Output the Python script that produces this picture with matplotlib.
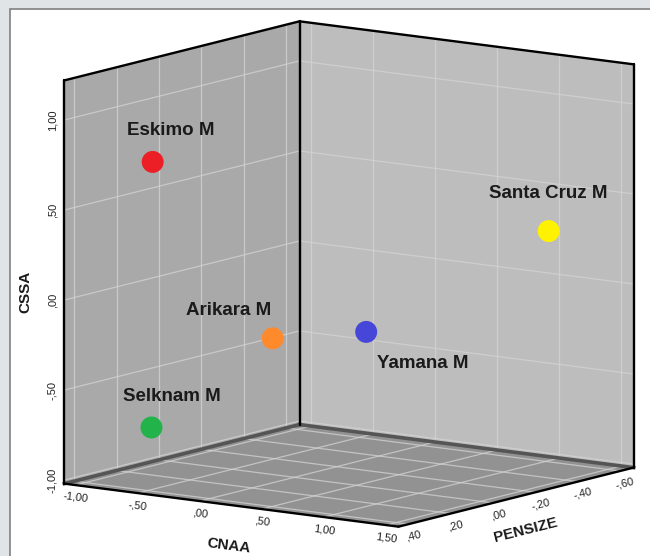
import numpy as np
import matplotlib
matplotlib.use("Agg")
import matplotlib.pyplot as plt
from matplotlib.patches import Rectangle
from mpl_toolkits.mplot3d.art3d import Poly3DCollection

# ---------------- data ----------------
groups = ["Eskimo M", "Santa Cruz M", "Arikara M", "Yamana M", "Selknam M"]
cnaa = [-0.80, 1.40, 0.03, -0.41, -0.52]
pensize = [0.20, -0.38, 0.12, -0.58, 0.37]
cssa = [0.72, 0.36, -0.21, -0.42, -0.68]
point_colors = ["#ec1f27", "#fff200", "#ff8a2b", "#4646d8", "#22b34a"]

cnaa_ticks = [-1.0, -0.5, 0.0, 0.5, 1.0, 1.5]
pensize_ticks = [0.4, 0.2, 0.0, -0.2, -0.4, -0.6]
cssa_ticks = [-1.0, -0.5, 0.0, 0.5, 1.0]

cnaa_range = (-1.09, 1.60)
pensize_range = (0.447, -0.664)
cssa_range = (-1.02, 1.22)

# label offsets (points) for each group label relative to its dot
label_offsets = [(13, 22.5), (0, 27), (-32, 20), (41, -22.5), (15, 22.5)]


def spss_fmt(v):
    s = f"{abs(v):.2f}".replace(".", ",")
    if s.startswith("0"):
        s = s[1:]
    return ("-" if v < 0 else "") + s


W, H = 650, 556
fig = plt.figure(figsize=(W / 100, H / 100), dpi=100)
fig.patch.set_facecolor("#e1e4e6")
fig.add_artist(Rectangle((9.5 / W, -0.05), 1.2, 1 - 9.5 / H + 0.05,
                         transform=fig.transFigure, facecolor="white",
                         edgecolor="#808080", lw=1.2, zorder=-5))

S = 686.5
cx, cy = 349, 556 - 274
left = cx - 0.5135 * S
bottom = cy - 0.5135 * S
ax = fig.add_axes([left / W, bottom / H, S / W, S / H], projection="3d")
ax.set_proj_type("ortho")
ax.view_init(elev=10.36, azim=-54.4)
ax.set_xlim(*cnaa_range)
ax.set_ylim(*pensize_range)
ax.set_zlim(*cssa_range)
ax.set_box_aspect((411, 404, 410), zoom=1.0)
ax.set_axis_off()
ax.computed_zorder = False
ax.set_facecolor((1, 1, 1, 0))

x0, x1 = cnaa_range
y0, y1 = pensize_range
z0, z1 = cssa_range

# panes
left_wall = [(x0, y0, z0), (x0, y1, z0), (x0, y1, z1), (x0, y0, z1)]
right_wall = [(x0, y1, z0), (x1, y1, z0), (x1, y1, z1), (x0, y1, z1)]
floor = [(x0, y0, z0), (x1, y0, z0), (x1, y1, z0), (x0, y1, z0)]
for verts, col in [(left_wall, "#a9a9a9"), (right_wall, "#bdbdbd"), (floor, "#929292")]:
    pc = Poly3DCollection([verts], facecolors=col, edgecolors="none", zorder=0)
    pc.set_clip_on(False)
    ax.add_collection3d(pc)

kw = dict(color="#d4d4d4", lw=0.9, zorder=1, clip_on=False, alpha=0.75)
# left wall grid
for t in cssa_ticks:
    ax.plot([x0, x0], [y0, y1], [t, t], **kw)
for t in pensize_ticks:
    ax.plot([x0, x0], [t, t], [z0, z1], **kw)
# right wall grid
for t in cssa_ticks:
    ax.plot([x0, x1], [y1, y1], [t, t], **kw)
for t in cnaa_ticks:
    ax.plot([t, t], [y1, y1], [z0, z1], **kw)
# floor grid
for t in cnaa_ticks:
    ax.plot([t, t], [y0, y1], [z0, z0], **kw)
for t in pensize_ticks:
    ax.plot([x0, x1], [t, t], [z0, z0], **kw)

# seams floor / walls
skw = dict(color="#555555", lw=2.6, zorder=2, clip_on=False)
ax.plot([x0, x0], [y0, y1], [z0, z0], **skw)
ax.plot([x0, x1], [y1, y1], [z0, z0], **skw)

# black box edges
ekw = dict(color="black", lw=1.7, zorder=3, clip_on=False, solid_capstyle="round")
ax.plot([x0, x0], [y0, y0], [z0, z1], **ekw)
ax.plot([x0, x0], [y1, y1], [z0, z1], **ekw)
ax.plot([x1, x1], [y1, y1], [z0, z1], **ekw)
ax.plot([x0, x0], [y0, y1], [z1, z1], **ekw)
ax.plot([x0, x1], [y1, y1], [z1, z1], **ekw)
ax.plot([x0, x1], [y0, y0], [z0, z0], **ekw)
ax.plot([x1, x1], [y0, y1], [z0, z0], **ekw)

# points
sc = ax.scatter(cnaa, pensize, cssa, c=point_colors, s=250, depthshade=False,
                edgecolors="none", zorder=5)
sc.set_clip_on(False)

M = ax.get_proj()


def to2d(x, y, z):
    v = M @ np.array([x, y, z, 1.0])
    return v[0] / v[3], v[1] / v[3]


def edge_angle(p, q):
    a = to2d(*p)
    b = to2d(*q)
    return np.degrees(np.arctan2(b[1] - a[1], b[0] - a[0]))


FONT = "Liberation Sans"

# group labels
for name, x, y, z, off in zip(groups, cnaa, pensize, cssa, label_offsets):
    ax.annotate(name, xy=to2d(x, y, z), xycoords="data", xytext=off,
                textcoords="offset points", ha="center", va="center",
                fontsize=13.5, fontweight="bold", family=FONT, color="#1a1a1a",
                annotation_clip=False, zorder=6)

# tick labels
tk = dict(xycoords="data", textcoords="offset points", ha="center", va="center",
          fontsize=8, family=FONT, color="#222222", annotation_clip=False)
ang_c = edge_angle((x0, y0, z0), (x1, y0, z0))
for t in cnaa_ticks:
    ax.annotate(spss_fmt(t), xy=to2d(t, y0, z0), xytext=(0, -9),
                rotation=ang_c, rotation_mode="anchor", **tk)
ang_p = edge_angle((x1, y0, z0), (x1, y1, z0))
for t in pensize_ticks:
    ax.annotate(spss_fmt(t), xy=to2d(x1, t, z0), xytext=(3.6, -8.6),
                rotation=ang_p, rotation_mode="anchor", **tk)
for t in cssa_ticks:
    ax.annotate(spss_fmt(t), xy=to2d(x0, y0, t), xytext=(-8.6, 0),
                rotation=90, rotation_mode="anchor", **tk)

# axis titles
tt = dict(fontsize=11, fontweight="bold", family=FONT, color="#1a1a1a",
          ha="center", va="center", rotation_mode="anchor")
fig.text(25 / W, 1 - 292 / H, "CSSA", rotation=90, **tt)
fig.text(229 / W, 1 - 546 / H, "CNAA", rotation=ang_c, **tt)
fig.text(526 / W, 1 - 530 / H, "PENSIZE", rotation=ang_p, **tt)

fig.savefig("out.png", dpi=100, facecolor=fig.get_facecolor())
